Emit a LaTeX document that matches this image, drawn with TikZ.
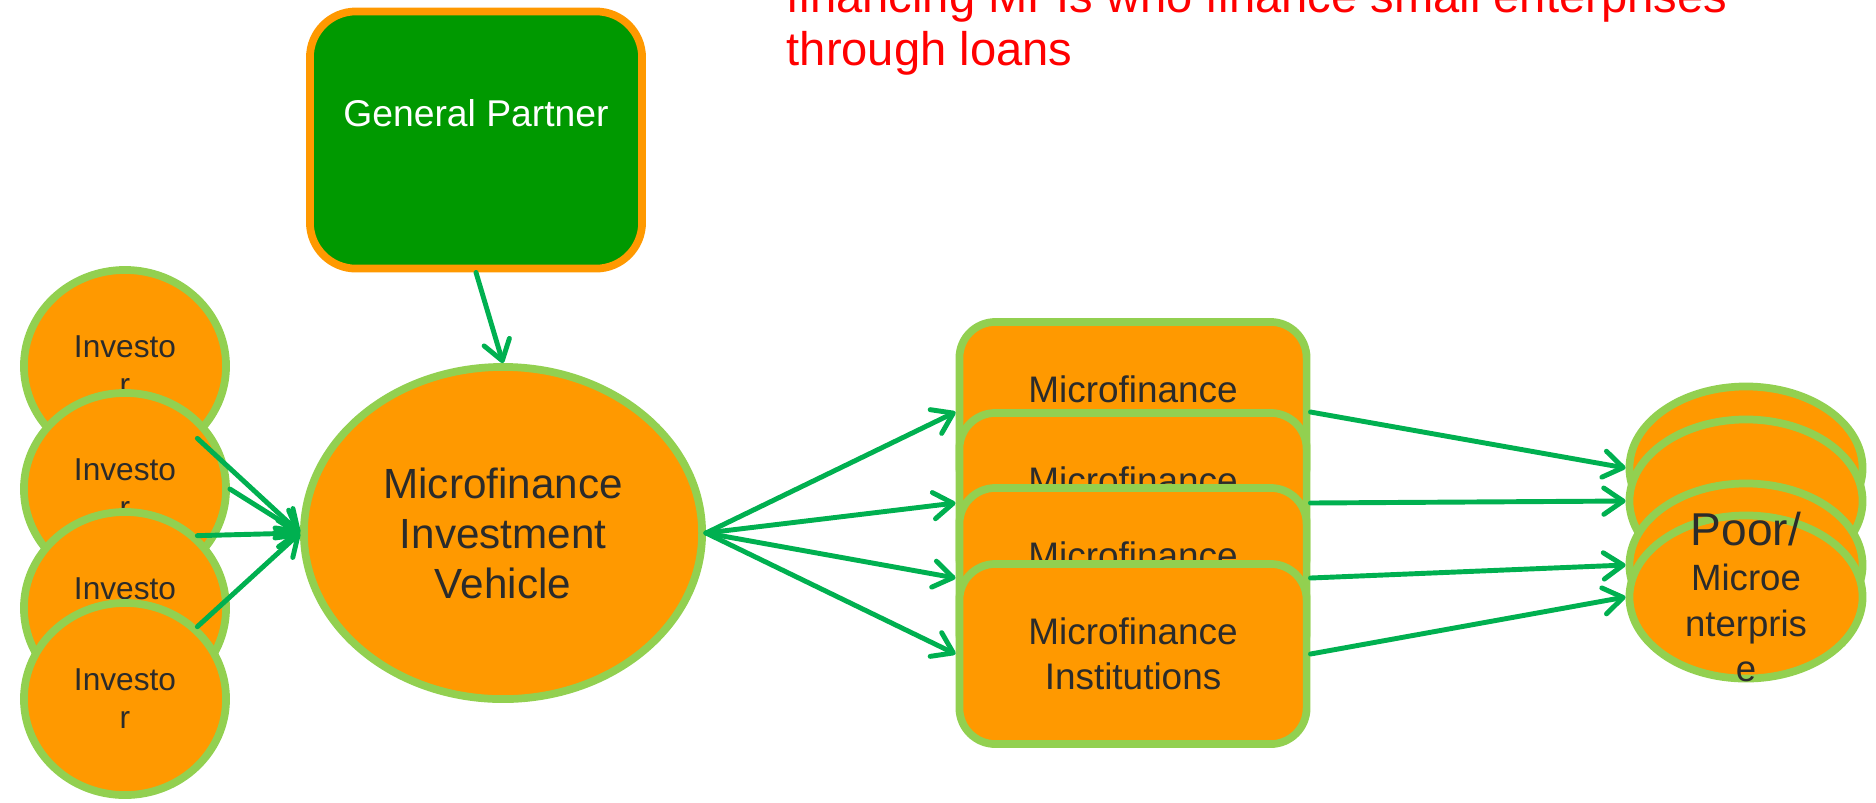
\documentclass[tikz,border=0pt]{standalone}
\usepackage{fontspec}
\setmainfont{Liberation Sans}
\usetikzlibrary{shapes.geometric, arrows.meta}
\definecolor{fillorange}{HTML}{FF9900}
\definecolor{rimgreen}{HTML}{92D050}
\definecolor{flowgreen}{HTML}{00B050}
\definecolor{gpgreen}{HTML}{009900}
\definecolor{labelgray}{HTML}{2B2B2B}

\begin{document}
\begin{tikzpicture}[x=0.01cm, y=-0.01cm, >={Straight Barb[length=5.5pt, width=7.5pt, round]},
    blob/.style={draw=rimgreen, fill=fillorange, line width=2.2pt, inner sep=0pt, align=center, text=labelgray},
    investor/.style={blob, ellipse, minimum width=2.02cm, minimum height=1.92cm, font=\fontsize{9}{10.8}\selectfont},
    vehicle/.style={blob, ellipse, minimum width=3.98cm, minimum height=3.32cm, font=\fontsize{12}{14.2}\selectfont},
    mfi/.style={blob, rectangle, rounded corners=0.36cm, minimum width=3.47cm, minimum height=1.80cm, font=\fontsize{10.5}{12.8}\selectfont},
    poor/.style={blob, ellipse, minimum width=2.33cm, minimum height=1.63cm},
    flow/.style={->, draw=flowgreen, line width=1.4pt, line cap=round}]
    \useasboundingbox (0,0) rectangle (1876,802);
    \clip (0,0) rectangle (1876,802);

    \node[anchor=south west, align=left, text=red, inner sep=0pt, font=\fontsize{13.4}{15.1}\selectfont] (note) at (786,76) {financing MFIs who finance small enterprises\\through loans};

    \node[draw=fillorange, fill=gpgreen, line width=2.2pt, rounded corners=0.46cm, minimum width=3.32cm, minimum height=2.57cm] (gp) at (476,140) {};
    \node[anchor=base, text=white, inner sep=0pt, font=\fontsize{10.6}{12.7}\selectfont] (gplabel) at (476,126) {General Partner};

    \node[investor] (inv1) at (125,366) {Investo\\r};
    \node[investor] (inv2) at (125,489) {Investo\\r};
    \node[investor] (inv3) at (125,608) {Investo\\r};
    \node[investor] (inv4) at (125,699) {Investo\\r};

    \node[vehicle] (miv) at (503,533) {Microfinance\\Investment\\Vehicle};

    \node[mfi] (mfi1) at (1133,412) {Microfinance\\Institutions};
    \node[mfi] (mfi2) at (1133,503) {Microfinance\\Institutions};
    \node[mfi] (mfi3) at (1133,578) {Microfinance\\Institutions};
    \node[mfi] (mfi4) at (1133,654) {Microfinance\\Institutions};

    \node[poor] (poor1) at (1746,468) {};
    \node[poor] (poor2) at (1746,501) {};
    \node[poor] (poor3) at (1746,565) {};
    \node[poor] (poor4) at (1746,597) {};
    \node[text=labelgray, align=center, inner sep=0pt, font=\fontsize{10.4}{12.9}\selectfont] (poorlabel) at (poor4) {{\fontsize{13.1}{13.7}\selectfont Poor/}\\Microe\\nterpris\\e};

    \draw[flow] (gp.south) -- (miv.north);
    \draw[flow] (inv1.-45) -- (miv.west);
    \draw[flow] (inv2.east) -- (miv.west);
    \draw[flow] (inv3.45) -- (miv.west);
    \draw[flow] (inv4.45) -- (miv.west);

    \draw[flow] (miv.east) -- (mfi1.west);
    \draw[flow] (miv.east) -- (mfi2.west);
    \draw[flow] (miv.east) -- (mfi3.west);
    \draw[flow] (miv.east) -- (mfi4.west);

    \draw[flow] (mfi1.east) -- (poor1.west);
    \draw[flow] (mfi2.east) -- (poor2.west);
    \draw[flow] (mfi3.east) -- (poor3.west);
    \draw[flow] (mfi4.east) -- (poor4.west);
\end{tikzpicture}
\end{document}
